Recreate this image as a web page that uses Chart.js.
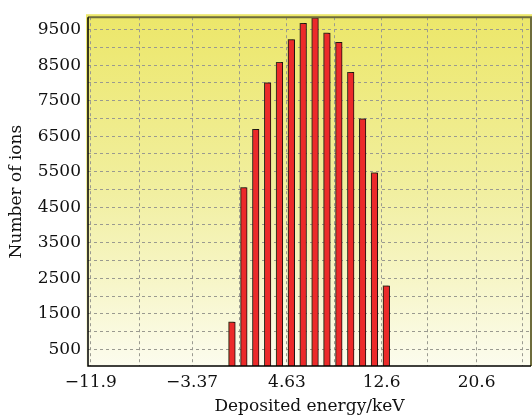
<!DOCTYPE html>
<html>
<head>
<meta charset="utf-8">
<script src="https://cdn.jsdelivr.net/npm/chart.js@4.4.0/dist/chart.umd.min.js"></script>
<style>
  html, body { margin: 0; padding: 0; background: #ffffff; }
  #wrap { width: 532px; height: 417px; }
</style>
</head>
<body>
<div id="wrap"><canvas id="chart" width="532" height="417"></canvas></div>
<script>
// Deposited energy (keV) of each bar and the number of ions
const energies = [0, 1, 2, 3, 4, 5, 6, 7, 8, 9, 10, 11, 12, 13];
const ionCounts = [1270, 5050, 6690, 8000, 8580, 9220, 9680, 9830, 9400, 9140, 8300, 6990, 5470, 2290];

// Axis ticks (grid lines) and their labels
const xTickValues = [-11.9, -7.8, -3.37, 0.63, 4.63, 8.6, 12.6, 16.5, 20.6, 24.5];
const xTickLabels = ['\u221211.9', '', '\u22123.37', '', '4.63', '', '12.6', '', '20.6', ''];
const yTickValues = [500, 1000, 1500, 2000, 2500, 3000, 3500, 4000, 4500, 5000,
                     5500, 6000, 6500, 7000, 7500, 8000, 8500, 9000, 9500];
const yTickLabels = ['500', '', '1500', '', '2500', '', '3500', '', '4500', '',
                     '5500', '', '6500', '', '7500', '', '8500', '', '9500'];

const serif = '"DejaVu Serif", "Liberation Serif", serif';

// Yellow gradient behind the plot area and the frame
const backgroundPlugin = {
    id: 'plotBackground',
    beforeDraw(chart) {
        const { ctx, chartArea: a } = chart;
        ctx.save();
        const grad = ctx.createLinearGradient(0, a.top, 0, a.bottom);
        grad.addColorStop(0, '#ece76a');
        grad.addColorStop(0.5, '#f1efa0');
        grad.addColorStop(1, '#fcfcee');
        ctx.fillStyle = grad;
        ctx.fillRect(a.left - 2, a.top - 3, a.right - a.left + 3, a.bottom - a.top + 4);
        ctx.restore();
    },
    afterDraw(chart) {
        const { ctx, chartArea: a } = chart;
        ctx.save();
        ctx.lineWidth = 2;
        ctx.strokeStyle = '#6e6c3c';
        ctx.beginPath();
        ctx.moveTo(a.left, a.top);
        ctx.lineTo(a.right, a.top);
        ctx.lineTo(a.right, a.bottom);
        ctx.stroke();
        ctx.strokeStyle = '#000000';
        ctx.lineWidth = 1.5;
        ctx.beginPath();
        ctx.moveTo(a.left, a.top);
        ctx.lineTo(a.left, a.bottom);
        ctx.lineTo(a.right, a.bottom);
        ctx.stroke();
        ctx.restore();
    }
};

// Olive shadow behind the bars
const shadowPlugin = {
    id: 'barShadow',
    beforeDatasetsDraw(chart) {
        const ctx = chart.ctx;
        ctx.save();
        ctx.shadowColor = 'rgba(80, 80, 40, 0.6)';
        ctx.shadowOffsetX = -1.5;
        ctx.shadowOffsetY = -1.5;
        ctx.shadowBlur = 1;
    },
    afterDatasetsDraw(chart) {
        chart.ctx.restore();
    }
};

new Chart(document.getElementById('chart'), {
    type: 'bar',
    data: {
        datasets: [{
            label: 'Number of ions',
            data: energies.map((e, i) => ({ x: e, y: ionCounts[i] })),
            backgroundColor: '#ec2a2a',
            borderColor: '#1a1010',
            borderWidth: 1,
            barThickness: 6.5
        }]
    },
    options: {
        responsive: false,
        animation: false,
        events: [],
        layout: { padding: { top: 14, right: 1, left: 0, bottom: 0 } },
        plugins: {
            legend: { display: false },
            tooltip: { enabled: false }
        },
        scales: {
            x: {
                type: 'linear',
                offset: false,
                min: -12.13,
                max: 25.18,
                afterFit: s => { s.height = 51; },
                afterBuildTicks: s => { s.ticks = xTickValues.map(v => ({ value: v })); },
                border: { display: false, dash: [3, 3] },
                grid: {
                    offset: false,
                    color: '#9a9a90',
                    lineWidth: 1,
                    drawTicks: false
                },
                ticks: {
                    autoSkip: false,
                    maxRotation: 0,
                    padding: 6,
                    color: '#111111',
                    font: { family: serif, size: 17 },
                    callback: (v, i) => xTickLabels[i]
                },
                title: {
                    display: true,
                    text: 'Deposited energy/keV',
                    color: '#111111',
                    font: { family: serif, size: 17 },
                    padding: { top: 5, bottom: 0 }
                }
            },
            y: {
                min: 30,
                max: 9850,
                afterFit: s => { s.width = 88; },
                afterBuildTicks: s => { s.ticks = yTickValues.map(v => ({ value: v })); },
                border: { display: false, dash: [3, 3] },
                grid: {
                    color: '#9a9a90',
                    lineWidth: 1,
                    drawTicks: false
                },
                ticks: {
                    autoSkip: false,
                    padding: 7,
                    color: '#111111',
                    font: { family: serif, size: 17 },
                    callback: (v, i) => yTickLabels[i]
                },
                title: {
                    display: true,
                    text: 'Number of ions',
                    color: '#111111',
                    font: { family: serif, size: 17 },
                    padding: { top: 6, bottom: 6 }
                }
            }
        }
    },
    plugins: [backgroundPlugin, shadowPlugin]
});
</script>
</body>
</html>
